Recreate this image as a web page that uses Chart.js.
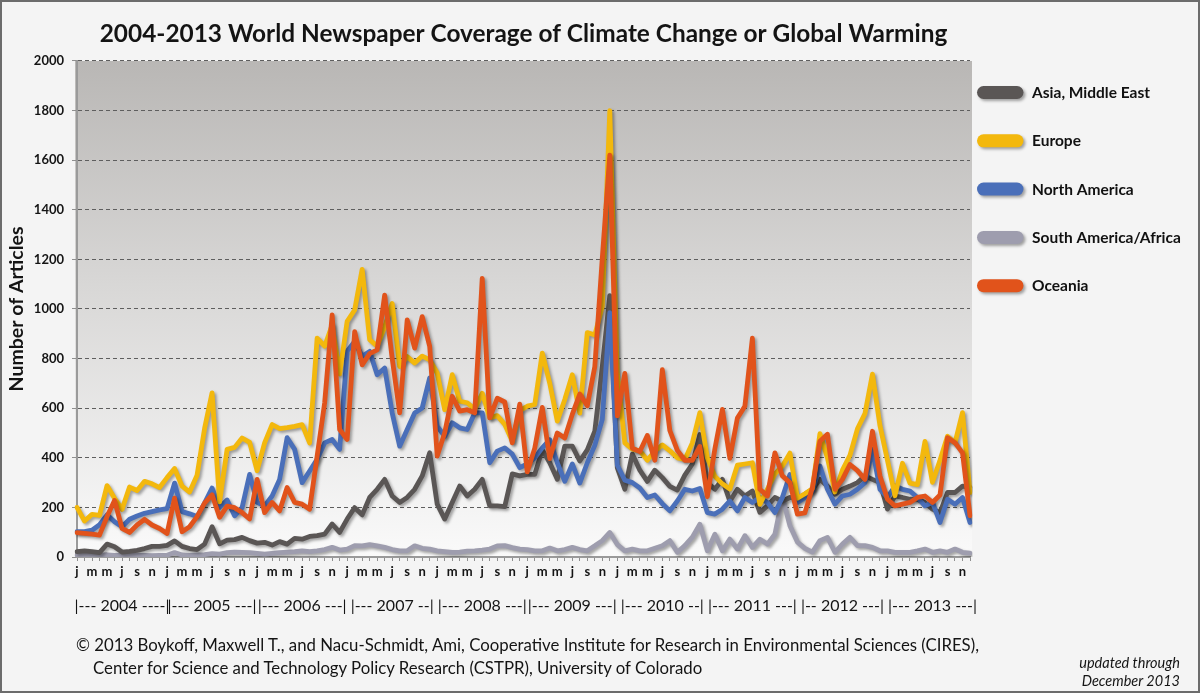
<!DOCTYPE html>
<html>
<head>
<meta charset="utf-8">
<title>World Newspaper Coverage of Climate Change or Global Warming</title>
<script src="https://cdn.jsdelivr.net/npm/chart.js@4.4.1/dist/chart.umd.min.js"></script>
<style>
    html, body {
        margin: 0;
        padding: 0;
        background: #f4f4f4;
    }
    #wrap {
        position: relative;
        width: 1200px;
        height: 693px;
        overflow: hidden;
        font-family: 'Lato', sans-serif;
        color: #141414;
    }
    #coverageChart {
        position: absolute;
        left: 0;
        top: 0;
    }
    .frame {
        position: absolute;
        left: 0;
        top: 0;
        width: 1200px;
        height: 693px;
        box-sizing: border-box;
        border: 2px solid #6c6c6c;
        pointer-events: none;
    }
    .credit {
        position: absolute;
        font-size: 16.8px;
        line-height: 23px;
        white-space: nowrap;
    }
    .updated {
        position: absolute;
        right: 20px;
        top: 654px;
        font-size: 14.5px;
        line-height: 18px;
        font-style: italic;
        text-align: right;
    }
</style>
</head>
<body>
<div id="wrap">
    <canvas id="coverageChart" width="1200" height="693"></canvas>
    <div class="credit" style="left:76px; top:633px;">© 2013 Boykoff, Maxwell T., and Nacu-Schmidt, Ami, Cooperative Institute for Research in Environmental Sciences (CIRES),</div>
    <div class="credit" style="left:93px; top:656px;">Center for Science and Technology Policy Research (CSTPR), University of Colorado</div>
    <div class="updated">updated through<br>December 2013</div>
    <div class="frame"></div>
</div>
<script>
'use strict';

// x axis: one category per month, letters shown on every second month
let monthLetters = ['j', 'f', 'm', 'a', 'm', 'j', 'j', 'a', 's', 'o', 'n', 'd'];
let years = [2004, 2005, 2006, 2007, 2008, 2009, 2010, 2011, 2012, 2013];
let yearLabels = ['|--- 2004 ----|', '|--- 2005 ---|', '|--- 2006 ---|', '|--- 2007 --|', '|--- 2008 ---|',
    '|--- 2009 ---|', '|--- 2010 --|', '|--- 2011 ---|', '|-- 2012 ---|', '|--- 2013 ---|'];

// monthly article counts, Jan 2004 - Dec 2013 (one row per year)
let asiaMiddleEast = [
    22, 25, 22, 18, 52, 41, 20, 23, 27, 34, 43, 43,
    47, 65, 43, 34, 30, 52, 122, 53, 68, 70, 79, 66,
    56, 59, 48, 62, 52, 75, 72, 83, 86, 92, 133, 99,
    153, 199, 170, 240, 273, 313, 246, 220, 240, 273, 327, 420,
    213, 153, 220, 286, 246, 273, 313, 206, 206, 203, 335, 327,
    333, 333, 432, 380, 313, 447, 447, 387, 432, 507, 768, 1054,
    360, 273, 415, 350, 305, 350, 320, 285, 270, 330, 375, 494,
    300, 273, 313, 225, 273, 246, 266, 180, 206, 240, 225, 240,
    235, 253, 273, 313, 286, 253, 273, 286, 300, 327, 313, 300,
    193, 246, 240, 233, 233, 220, 193, 179, 260, 260, 286, 280
];
let europe = [
    200, 145, 172, 168, 288, 237, 192, 282, 268, 305, 295, 280,
    320, 357, 286, 262, 330, 518, 662, 222, 434, 442, 480, 462,
    348, 460, 534, 518, 522, 527, 534, 460, 882, 850, 935, 738,
    950, 996, 1160, 876, 850, 928, 1022, 768, 808, 782, 810, 795,
    742, 594, 735, 628, 622, 596, 660, 562, 570, 535, 467, 590,
    608, 615, 822, 700, 548, 635, 735, 580, 905, 895, 1010, 1800,
    740, 460, 435, 428, 390, 427, 452, 428, 400, 393, 460, 582,
    400, 325, 295, 274, 370, 375, 380, 212, 273, 335, 367, 419,
    237, 255, 275, 497, 400, 262, 350, 410, 517, 578, 737, 530,
    390, 247, 378, 298, 292, 466, 301, 390, 487, 460, 582, 260
];
let northAmerica = [
    102, 102, 108, 130, 170, 142, 122, 152, 165, 176, 183, 190,
    195, 298, 183, 174, 163, 217, 278, 200, 230, 166, 199, 333,
    220, 206, 246, 313, 481, 434, 300, 347, 394, 460, 474, 434,
    830, 869, 809, 829, 735, 762, 581, 447, 514, 581, 601, 722,
    527, 487, 541, 521, 514, 581, 581, 380, 427, 440, 415, 360,
    375, 400, 440, 473, 380, 305, 375, 298, 380, 450, 555, 985,
    370, 310, 300, 278, 240, 250, 215, 186, 226, 273, 266, 276,
    179, 173, 193, 226, 186, 240, 220, 240, 220, 179, 240, 333,
    220, 240, 265, 367, 273, 213, 246, 253, 273, 300, 434, 273,
    240, 286, 273, 266, 240, 206, 220, 139, 233, 213, 240, 139
];
let southAmericaAfrica = [
    8, 8, 6, 7, 9, 6, 7, 8, 7, 6, 5, 6,
    7, 18, 8, 6, 8, 10, 14, 12, 18, 20, 19, 18,
    15, 12, 15, 18, 20, 22, 25, 22, 25, 30, 39, 28,
    32, 46, 45, 50, 45, 39, 30, 25, 25, 45, 35, 32,
    25, 22, 19, 20, 24, 25, 28, 32, 45, 46, 38, 32,
    30, 25, 25, 36, 25, 30, 39, 30, 25, 45, 66, 99,
    50, 25, 32, 25, 25, 35, 45, 66, 19, 46, 80, 132,
    25, 92, 25, 72, 32, 86, 39, 72, 52, 92, 240, 126,
    60, 35, 20, 66, 79, 19, 52, 79, 46, 46, 39, 25,
    25, 19, 19, 19, 25, 32, 19, 25, 19, 32, 19, 16
];
let oceania = [
    98, 95, 92, 88, 163, 228, 115, 99, 129, 152, 129, 115,
    95, 237, 102, 122, 163, 217, 251, 160, 205, 199, 179, 153,
    313, 179, 220, 186, 280, 220, 213, 193, 407, 621, 976, 514,
    474, 909, 775, 820, 835, 1056, 800, 581, 956, 842, 969, 849,
    407, 501, 648, 588, 594, 581, 1123, 561, 640, 625, 460, 616,
    343, 439, 603, 397, 500, 480, 575, 657, 610, 767, 1205, 1620,
    569, 740, 439, 425, 490, 390, 755, 510, 430, 390, 390, 446,
    243, 436, 595, 398, 560, 608, 882, 273, 246, 420, 327, 300,
    173, 178, 280, 467, 495, 273, 313, 373, 348, 313, 507, 327,
    233, 206, 213, 220, 240, 246, 220, 250, 481, 461, 420, 166
];

let regionColors = ['#5a5655', '#f3b80d', '#4a6fb9', '#9e9dae', '#e1531b'];

let months = years.flatMap(() => monthLetters);

Chart.defaults.font.family = "'Lato', sans-serif";
Chart.defaults.color = '#1a1a1a';

// grey gradient behind the plot and light page colour around it
const plotBackground = {
    id: 'plotBackground',
    beforeDraw(chart) {
        const {ctx, chartArea: a} = chart;
        ctx.save();
        ctx.fillStyle = '#f4f4f4';
        ctx.fillRect(0, 0, chart.width, chart.height);
        let grad = ctx.createLinearGradient(0, a.top, 0, a.bottom);
        grad.addColorStop(0, '#b9b7b5');
        grad.addColorStop(0.45, '#d8d7d6');
        grad.addColorStop(1, '#fafafa');
        ctx.fillStyle = grad;
        ctx.fillRect(a.left - 2, a.top, a.right - a.left + 4, a.bottom - a.top);
        ctx.restore();
    }
};

// soft drop shadow under every line
const lineShadow = {
    id: 'lineShadow',
    beforeDatasetsDraw(chart) {
        const ctx = chart.ctx;
        ctx.save();
        ctx.shadowColor = 'rgba(0, 0, 0, 0.35)';
        ctx.shadowBlur = 3;
        ctx.shadowOffsetX = 2;
        ctx.shadowOffsetY = 2;
    },
    afterDatasetsDraw(chart) {
        chart.ctx.restore();
    }
};

// year strip under the month letters
const yearRow = {
    id: 'yearRow',
    afterDraw(chart) {
        const {ctx} = chart;
        const x = chart.scales.x;
        ctx.save();
        ctx.font = "16px 'Lato', sans-serif";
        ctx.fillStyle = '#141414';
        ctx.textAlign = 'center';
        ctx.textBaseline = 'middle';
        yearLabels.forEach((text, k) => {
            let cx = (x.getPixelForValue(k * 12) + x.getPixelForValue(k * 12 + 11)) / 2 + 3.75;
            ctx.fillText(text, cx, 606);
        });
        ctx.restore();
    }
};

// legend to the right: rounded colour pills with bold labels
const pillLegend = {
    id: 'pillLegend',
    afterDraw(chart) {
        const {ctx, chartArea} = chart;
        const x0 = chartArea.right + 7;
        chart.data.datasets.forEach((ds, i) => {
            let y = 92.5 + i * 48.3;
            ctx.save();
            ctx.shadowColor = 'rgba(0, 0, 0, 0.35)';
            ctx.shadowBlur = 3;
            ctx.shadowOffsetX = 2;
            ctx.shadowOffsetY = 2;
            ctx.strokeStyle = ds.borderColor;
            ctx.lineWidth = 13;
            ctx.lineCap = 'round';
            ctx.beginPath();
            ctx.moveTo(x0 + 6.5, y);
            ctx.lineTo(x0 + 40, y);
            ctx.stroke();
            ctx.restore();

            ctx.save();
            ctx.font = "bold 15.5px 'Lato', sans-serif";
            ctx.fillStyle = '#111';
            ctx.textBaseline = 'middle';
            ctx.fillText(ds.label, x0 + 55, y + 0.5);
            ctx.restore();
        });
    }
};

function regionDataset(label, data, color, order) {
    return {
        label: label,
        data: data,
        borderColor: color,
        backgroundColor: color,
        borderWidth: 4.8,
        borderJoinStyle: 'round',
        borderCapStyle: 'round',
        pointRadius: 0,
        tension: 0,
        order: order,
    };
}

let ctxCoverage = document.getElementById('coverageChart').getContext('2d');
let coverageChart = new Chart(ctxCoverage, {
    type: 'line',
    data: {
        labels: months,
        datasets: [
            regionDataset('Asia, Middle East', asiaMiddleEast, regionColors[0], 3),
            regionDataset('Europe', europe, regionColors[1], 1),
            regionDataset('North America', northAmerica, regionColors[2], 2),
            regionDataset('South America/Africa', southAmericaAfrica, regionColors[3], 4),
            regionDataset('Oceania', oceania, regionColors[4], 0),
        ]
    },
    options: {
        responsive: false,
        animation: false,
        devicePixelRatio: 1,
        layout: {
            padding: {left: 0, top: 0, right: 230, bottom: 106}
        },
        scales: {
            x: {
                type: 'category',
                offset: false,
                afterFit: scale => { scale.height = 30; },
                grid: {
                    drawOnChartArea: false,
                    drawTicks: true,
                    tickLength: 4,
                    tickColor: '#8f8f8f',
                    tickWidth: 1,
                },
                border: {display: true, color: '#9a9a9a', width: 2},
                ticks: {
                    autoSkip: false,
                    maxRotation: 0,
                    padding: 3,
                    color: '#141414',
                    font: {size: 13, weight: 'bold'},
                    callback: function (value, index) {
                        return index % 2 === 0 ? this.getLabelForValue(value) : '';
                    }
                }
            },
            y: {
                min: 0,
                max: 2000,
                afterFit: scale => { scale.width = 77; },
                ticks: {
                    stepSize: 200,
                    padding: 8,
                    color: '#141414',
                    font: {size: 13, weight: 'bold'},
                    callback: value => String(value)
                },
                grid: {
                    color: '#5e5e5e',
                    lineWidth: 1,
                    drawTicks: true,
                    tickLength: 5,
                    tickColor: '#8f8f8f',
                    tickBorderDash: [],
                },
                border: {display: true, color: '#9a9a9a', width: 2, dash: [4, 3]},
                title: {
                    display: true,
                    text: 'Number of Articles',
                    color: '#141414',
                    font: {size: 19.5, weight: 'bold'},
                    padding: {top: 5, bottom: 0}
                }
            }
        },
        plugins: {
            title: {
                display: true,
                fullSize: false,
                text: '2004-2013 World Newspaper Coverage of Climate Change or Global Warming',
                color: '#141414',
                font: {size: 24.4, weight: 'bold'},
                padding: {top: 19.5, bottom: 12.2}
            },
            legend: {display: false},
            tooltip: {enabled: false}
        }
    },
    plugins: [plotBackground, lineShadow, yearRow, pillLegend]
});
</script>
</body>
</html>
